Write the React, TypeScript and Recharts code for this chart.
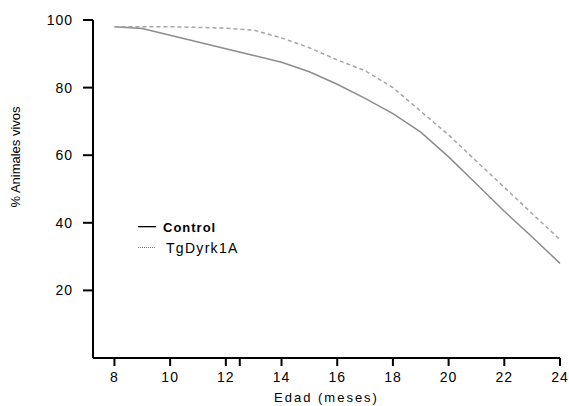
import React from 'react';
import { LineChart, Line, XAxis, YAxis } from 'recharts';

const months = [8, 9, 10, 11, 12, 13, 14, 15, 16, 17, 18, 19, 20, 21, 22, 23, 24];
const control = [98, 97.5, 95.5, 93.5, 91.5, 89.5, 87.5, 84.7, 81, 76.8, 72.3, 66.8, 59.5, 51.5, 43.4, 35.8, 28];
const tgDyrk1A = [98, 98, 98, 97.8, 97.6, 97, 94.7, 91.8, 88.2, 85, 80, 73, 66, 58.2, 50.5, 42.7, 35];
const xTicks = [8, 10, 12, 12.5, 14, 16, 18, 20, 22, 24];
const yTicks = [20, 40, 60, 80, 100];
const seriesNames = ['Control', 'TgDyrk1A'];

const data = months.map((m, i) => ({ m, control: control[i], tg: tgDyrk1A[i] }));

const FONT = '"Liberation Sans", Arial, sans-serif';

const LegendBox = () => (
  <div style={{ position: 'absolute', left: 138, top: 217, fontFamily: FONT, color: '#000' }}>
    <div style={{ display: 'flex', alignItems: 'center', height: 20 }}>
      <svg width={18} height={4} style={{ marginRight: 7 }}>
        <rect x={0} y={1} width={18} height={1.3} fill="#000" />
      </svg>
      <span style={{ fontSize: 13, fontWeight: 'bold', letterSpacing: 1 }}>{seriesNames[0]}</span>
    </div>
    <div style={{ display: 'flex', alignItems: 'center', height: 21 }}>
      <svg width={18} height={4} style={{ marginRight: 10 }}>
        <line x1={0} y1={1.5} x2={18} y2={1.5} stroke="#777" strokeWidth={1} strokeDasharray="1 1" />
      </svg>
      <span style={{ fontSize: 14, letterSpacing: 1.3 }}>{seriesNames[1]}</span>
    </div>
  </div>
);

export default function App() {
  return (
    <div style={{ position: 'absolute', left: 0, top: 0, width: 569, height: 406, background: '#fff' }}>
      <LineChart width={569} height={406} data={data} margin={{ top: 20, right: 9, bottom: 18, left: 13 }}>
        <XAxis
          dataKey="m"
          type="number"
          domain={[7.23, 24]}
          ticks={xTicks}
          tickFormatter={(v: number) => (v === 12.5 ? '' : String(v))}
          axisLine={{ stroke: '#000', strokeWidth: 2 }}
          tickLine={{ stroke: '#000', strokeWidth: 2 }}
          tickSize={8}
          tickMargin={6}
          height={30}
          tick={{ fill: '#000', fontSize: 14, fontFamily: FONT, letterSpacing: 1 }}
          label={{
            value: 'Edad (meses)',
            position: 'insideBottom',
            offset: -14,
            fill: '#000',
            fontSize: 13,
            fontFamily: FONT,
            letterSpacing: 2,
          }}
        />
        <YAxis
          type="number"
          domain={[0, 100]}
          ticks={yTicks}
          axisLine={{ stroke: '#000', strokeWidth: 2 }}
          tickLine={{ stroke: '#000', strokeWidth: 2 }}
          tickSize={10}
          tickMargin={10}
          width={80}
          tick={{ fill: '#000', fontSize: 14, fontFamily: FONT, letterSpacing: 1 }}
          label={{
            value: '% Animales vivos',
            angle: -90,
            position: 'insideLeft',
            dx: -3,
            dy: -32,
            fill: '#000',
            fontSize: 13,
            fontFamily: FONT,
            style: { textAnchor: 'middle' },
          }}
        />
        <Line
          dataKey="control"
          name={seriesNames[0]}
          stroke="#8c8c8c"
          strokeWidth={1.5}
          dot={false}
          isAnimationActive={false}
        />
        <Line
          dataKey="tg"
          name={seriesNames[1]}
          stroke="#a5a5a5"
          strokeWidth={1.5}
          strokeDasharray="4 3"
          dot={false}
          isAnimationActive={false}
        />
      </LineChart>
      <LegendBox />
    </div>
  );
}
